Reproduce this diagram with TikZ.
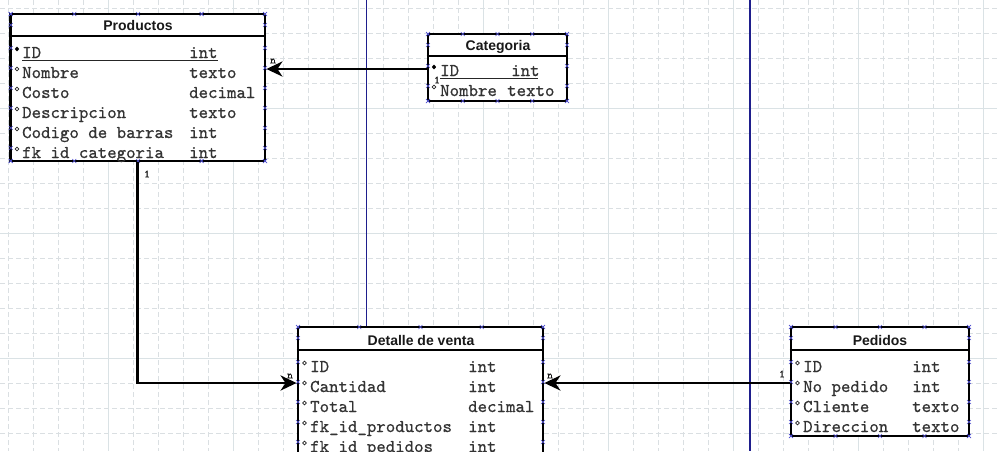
\documentclass[tikz,border=0pt]{standalone}
\usepackage{fontspec}
\setmainfont{Liberation Sans}
\newfontfamily\monofont[RawFeature={embolden=0.7}]{lmmono10-regular.otf}
\usetikzlibrary{arrows.meta}
\definecolor{gridc}{HTML}{DADFE2}
\definecolor{gridm}{HTML}{DAE2E5}
\definecolor{pageblue}{HTML}{1E1E8C}
\definecolor{handle}{HTML}{5050D0}
\tikzset{
  tbl/.style={draw=black, line width=2.8pt, fill=white, inner sep=0pt},
  hdr/.style={font=\fontsize{14}{16}\selectfont\bfseries, text=black!90, inner sep=0pt},
  row/.style={anchor=base west, inner sep=0pt, font=\monofont\fontsize{18}{20}\selectfont, text=black!80},
  conn/.style={line width=2.8pt, black},
  tip/.style={-{Stealth[length=16pt,width=15pt,inset=5pt]}},
  card/.style={font=\monofont\fontsize{11}{12}\selectfont, inner sep=0pt, text=black!90},
  hmark/.style={draw=handle, line width=0.6pt},
  hline/.style={line width=2.8pt},
  uline/.style={line width=1.1pt, black!85},
}
\newcommand\hmk[2]{\draw[hmark] (#1,#2) ++(-2,-2) -- ++(4,4) ++(-4,0) -- ++(4,-4);}
\newcommand\tmarks[5]{%
  \foreach \xx in {#1} {\hmk{\xx}{#2}\hmk{\xx}{#3}}
  \foreach \yy in {#4} {\hmk{#5}{\yy}}}
\newcommand\pkmark[2]{\fill[black] (#1,#2) ++(0,-2.4) -- ++(2.2,2.4) -- ++(-2.2,2.4) -- ++(-2.2,-2.4) -- cycle;}
\newcommand\attmark[2]{\draw[line width=0.8pt, black!85] (#1,#2) circle (1.9pt);}
\begin{document}
\begin{tikzpicture}[x=1pt,y=-1pt]
\useasboundingbox (0,0) rectangle (997,451);
\clip (0,0) rectangle (997,451);
% grid
\foreach \gx in {8,33,...,1000} {\draw[gridc, line width=0.8pt, dash pattern=on 5pt off 3pt] (\gx,0) -- (\gx,451);}
\foreach \gy in {8,33,...,460} {\draw[gridc, line width=0.8pt, dash pattern=on 5pt off 3pt] (0,\gy) -- (997,\gy);}
\foreach \gx in {108,233,...,1000} {\draw[gridm, line width=1pt] (\gx,0) -- (\gx,451);}
\foreach \gy in {108,233,358} {\draw[gridm, line width=1pt] (0,\gy) -- (997,\gy);}
% page boundaries
\draw[pageblue, line width=1.3pt] (366.5,0) -- (366.5,451);
\draw[pageblue, line width=1.3pt] (750,0) -- (750,451);

% ---------- Productos
\node[tbl, minimum width=254.3pt, minimum height=147pt] (prod) at (137.85,87.5) {};
\draw[hline] (prod.west |- 0,36) -- (prod.east |- 0,36);
\node[hdr] (prodh) at (138,25.5) {Productos};
\node[row] (pn0) at (22,58) {ID};
\node[row] (pt0) at (189,58) {int};
\draw[uline] (22,60.5) -- (218,60.5);
\pkmark{17}{49}
\foreach \n/\t [count=\i] in {Nombre/texto,Costo/decimal,Descripcion/texto,Codigo de barras/int,fk id categoria/int} {
  \pgfmathsetmacro\yb{58+20*\i}
  \node[row] (pn\i) at (22,\yb) {\n};
  \node[row] (pt\i) at (189,\yb) {\t};
  \attmark{17}{\yb-9}
}
\tmarks{10.7,74.3,138,201.6,265}{14}{161}{14,25,48,68,88,108,128,148,161}{10.7}
\tmarks{}{}{}{14,25,48,68,88,108,128,148,161}{265}

% ---------- Categoria
\node[tbl, minimum width=139pt, minimum height=67pt] (cat) at (497.5,67.5) {};
\draw[hline] (cat.west |- 0,56) -- (cat.east |- 0,56);
\node[hdr] (cath) at (498,46.5) {Categoria};
\node[row] (cn0) at (440,76) {ID};
\node[row] (ct0) at (511,76) {int};
\draw[uline] (440,78.5) -- (538,78.5);
\pkmark{434}{67}
\node[row] (cn1) at (440,96) {Nombre};
\node[row] (ct1) at (507,96) {texto};
\attmark{434}{87}
\tmarks{428,462.75,497.5,532.25,567}{34}{101}{34,45,66,86,101}{428}
\tmarks{}{}{}{34,45,66,86,101}{567}

% ---------- Detalle de venta
\node[tbl, minimum width=245pt, minimum height=153pt] (det) at (420.5,403.5) {};
\draw[hline] (det.west |- 0,350) -- (det.east |- 0,350);
\node[hdr] (deth) at (421,340.5) {Detalle de venta};
\foreach \n/\t [count=\i] in {ID/int,Cantidad/int,Total/decimal,fk\_id\_productos/int,fk\_id\_pedidos/int} {
  \pgfmathsetmacro\yb{352+20*\i}
  \node[row] (dn\i) at (310,\yb) {\n};
  \node[row] (dt\i) at (468,\yb) {\t};
  \attmark{304.5}{\yb-9}
}
\tmarks{298,359.25,420.5,481.75,543}{327}{480}{327,338,362,382,402,422,442}{298}
\tmarks{}{}{}{327,338,362,382,402,422,442}{543}

% ---------- Pedidos
\node[tbl, minimum width=178pt, minimum height=109pt] (ped) at (880,381.5) {};
\draw[hline] (ped.west |- 0,350) -- (ped.east |- 0,350);
\node[hdr] (pedh) at (880,340.5) {Pedidos};
\foreach \n/\t [count=\i] in {ID/int,No pedido/int,Cliente/texto,Direccion/texto} {
  \pgfmathsetmacro\yb{352+20*\i}
  \node[row] (en\i) at (803,\yb) {\n};
  \node[row] (et\i) at (912,\yb) {\t};
  \attmark{797.5}{\yb-9}
}
\tmarks{791,835.5,880,924.5,969}{327}{436}{327,338,362,382,402,422,436}{791}
\tmarks{}{}{}{327,338,362,382,402,422,436}{969}

% ---------- connectors
\draw[conn, tip] (cat.west |- 0,69) -- (prod.east |- 0,69);
\draw[conn, tip] (prod.south) |- (det.west |- 0,383);
\draw[conn, tip] (ped.west |- 0,383) -- (det.east |- 0,383);

% ---------- cardinalities
\node[card] (c1) at (273,61) {n};
\node[card] (c2) at (437,80) {1};
\node[card] (c3) at (147,174) {1};
\node[card] (c4) at (290,376) {n};
\node[card] (c5) at (550,376) {n};
\node[card] (c6) at (782,374) {1};
\end{tikzpicture}
\end{document}
